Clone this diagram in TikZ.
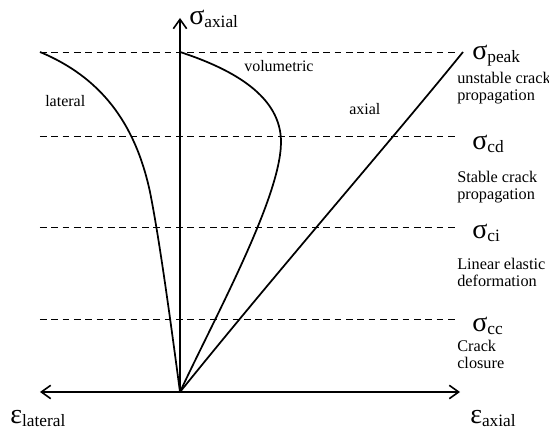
\documentclass[tikz,border=0pt]{standalone}
\usepackage{fontspec}
\setmainfont{Liberation Serif}
\usetikzlibrary{arrows.meta}
\newcommand{\symsub}[2]{{\fontsize{21}{21}\selectfont #1}\raisebox{-2pt}{\fontsize{13}{13}\selectfont #2}}

\begin{document}
\begin{tikzpicture}[x=0.75pt,y=0.75pt,
    axis/.style={line width=1.4pt,-{Straight Barb[length=7pt,width=10pt,line width=1.2pt]}},
    curve/.style={line width=1.3pt},
    level/.style={dash pattern=on 5pt off 3.5pt,line width=0.7pt},
    sym/.style={inner sep=0pt,anchor=base west},
    word/.style={inner sep=0pt,anchor=base west,font=\fontsize{12}{13}\selectfont},
    note/.style={inner sep=0pt,anchor=north west,align=left,font=\fontsize{12.2}{12.6}\selectfont}]
  \useasboundingbox (-180,-42) rectangle (369,392);
  \coordinate (o) at (0,0);
  \coordinate (top) at (0,374);
  \coordinate (left) at (-140,0);
  \coordinate (right) at (280,0);
  % stress levels
  \foreach \n/\y in {peak/340, cd/256, ci/165, cc/73}
    \draw[level] (-140,\y) coordinate (\n l) -- (278,\y) coordinate (\n r);
  % axes
  \draw[axis] (o) -- (top);
  \draw[axis] (o) -- (left);
  \draw[axis] (o) -- (right);
  % curves
  \draw[curve] (peakl) .. controls (-80,315) and (-45,270) .. (-30,200)
                       .. controls (-20,150) and (-8,60) .. (o);
  \draw[curve] (0,340) .. controls (55,322) and (101,295) .. (101,250)
                       .. controls (101,195) and (35,75) .. (o);
  \draw[curve] (o) .. controls (100,124) and (210,250) .. (283,340);
  % labels
  \node[sym] (saxial) at (9,367) {\symsub{σ}{axial}};
  \node[sym] (speak) at (292,332) {\symsub{σ}{peak}};
  \node[sym] (scd) at (292,242) {\symsub{σ}{cd}};
  \node[sym] (sci) at (292,153) {\symsub{σ}{ci}};
  \node[sym] (scc) at (292,60) {\symsub{σ}{cc}};
  \node[sym] (eaxial) at (290,-32) {\symsub{ε}{axial}};
  \node[sym] (elateral) at (-170,-32) {\symsub{ε}{lateral}};
  \node[word] (vol) at (64,320) {volumetric};
  \node[word] (lat) at (-135,285) {lateral};
  \node[word] (ax) at (169,277) {axial};
  \node[note] (unstable) at (277,320) {unstable crack\\propagation};
  \node[note] (stable) at (277,221) {Stable crack\\propagation};
  \node[note] (linear) at (277,134) {Linear elastic\\deformation};
  \node[note] (closure) at (277,52) {Crack\\closure};
\end{tikzpicture}
\end{document}
